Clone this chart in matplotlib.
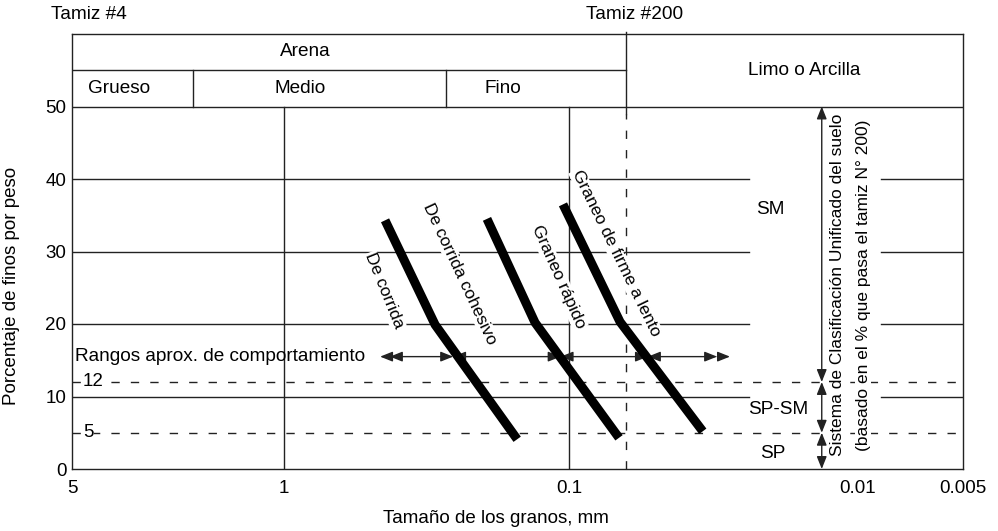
import numpy as np
import matplotlib
matplotlib.use("Agg")
from matplotlib import pyplot as plt

plt.rcParams['font.family'] = ['Liberation Sans', 'DejaVu Sans']
plt.rcParams['font.size'] = 13.7

# ---- data --------------------------------------------------------------
x_ticks = [5, 1, 0.1, 0.01, 0.005]
x_tick_labels = ["5", "1", "0.1", "0.01", "0.005"]
y_ticks = [0, 10, 20, 30, 40, 50]

tamiz_200 = 0.075          # Tamiz #200
tamiz_4 = 4.4              # label position for Tamiz #4
grueso_medio = 2.0         # header boundary Grueso | Medio
medio_fino = 0.27          # header boundary Medio | Fino

# behaviour lines (grain size mm, % fines)
line_x = [[0.442, 0.295, 0.152],
          [0.194, 0.1316, 0.0777],
          [0.105, 0.0773, 0.0385]]
line_y = [[34.3, 19.9, 4.1],
          [34.5, 20.2, 4.3],
          [36.5, 20.3, 5.2]]

line_labels = ["De corrida", "De corrida cohesivo", "Graneo rápido", "Graneo de firme a lento"]
line_label_x = [0.446, 0.241, 0.109, 0.0789]
line_label_y = [24.6, 26.9, 26.5, 29.8]
line_label_rot = [-68, -65, -66, -64]

# behaviour range arrows
range_y = 15.5
range_bounds = [0.425, 0.255, 0.107, 0.062, 0.034]
range_outer = [0.46, 0.0304]

# USCS classification
class_limits = [50, 12, 5, 0]
class_x = 0.0137
class_names = ["SM", "SP-SM", "SP"]
class_name_x = [0.0215, 0.020, 0.021]
class_name_y = [35.8, 8.2, 2.2]

grid_y = [10, 20, 30, 40]
grid_gap = (0.0258, 0.0086)
dash_y = [12, 5]

# ---- distorted log scale of the original drawing ------------------------
anchor_size = np.array([5, 1, 0.1, 0.075, 0.01, 0.005])
anchor_pos = np.array([0, 212, 497, 554, 786, 891]) / 891.0
anchor_log = -np.log10(anchor_size)


def fwd(x):
    with np.errstate(divide="ignore", invalid="ignore"):
        lx = -np.log10(np.clip(np.asarray(x, dtype=float), 1e-6, None))
    return np.interp(lx, anchor_log, anchor_pos)


def inv(p):
    return 10 ** (-np.interp(np.asarray(p, dtype=float), anchor_pos, anchor_log))


fig = plt.figure(figsize=(9.98, 5.31), dpi=100)
ax = fig.add_axes([72 / 998, 62 / 531, 891 / 998, 435 / 531])
ax.set_xscale("function", functions=(fwd, inv))
ax.set_xlim(0.005, 5)
ax.set_ylim(0, 60)

ax.set_xticks(x_ticks)
ax.set_xticklabels(x_tick_labels)
ax.set_yticks(y_ticks)
ax.xaxis.set_minor_locator(matplotlib.ticker.NullLocator())
ax.tick_params(length=0, pad=8, labelsize=13.5)
ax.tick_params(axis="y", pad=4)
for s in ax.spines.values():
    s.set_linewidth(1.0)
    s.set_color("#222222")

ax.set_xlabel("Tamaño de los granos, mm", fontsize=13.5)
ax.xaxis.set_label_coords(0.476, -0.095)
ax.set_ylabel("Porcentaje de finos por peso", fontsize=13.5)
ax.yaxis.set_label_coords(-0.058, 0.42)

lc = "#222222"
dash = (0, (6, 8))
white = dict(facecolor="white", edgecolor="none", pad=0.5)

# header
ax.plot([5, 0.005], [50, 50], color=lc, lw=1)
ax.plot([5, tamiz_200], [55, 55], color=lc, lw=1)
for bx in [grueso_medio, medio_fino]:
    ax.plot([bx, bx], [50, 55], color=lc, lw=1)
ax.plot([tamiz_200, tamiz_200], [49, 60.3], color=lc, lw=1, clip_on=False)
ax.plot([tamiz_200, tamiz_200], [0, 49], color=lc, lw=1, ls=dash)

ax.text(0.84, 57.6, "Arena", ha="center", va="center")
ax.text(3.5, 52.5, "Grueso", ha="center", va="center")
ax.text(0.88, 52.5, "Medio", ha="center", va="center")
ax.text(0.17, 52.5, "Fino", ha="center", va="center")
ax.text(0.016, 55, "Limo o Arcilla", ha="center", va="center")
ax.text(tamiz_4, 62.7, "Tamiz #4", ha="center", va="center", clip_on=False)
ax.text(tamiz_200 * 0.93, 62.7, "Tamiz #200", ha="center", va="center", clip_on=False)

# grid
for gx in [1, 0.1]:
    ax.plot([gx, gx], [0, 50], color=lc, lw=1)
for gy in grid_y:
    ax.plot([5, grid_gap[0]], [gy, gy], color=lc, lw=1)
    ax.plot([grid_gap[1], 0.005], [gy, gy], color=lc, lw=1)
for dy in dash_y:
    ax.plot([5, 0.005], [dy, dy], color=lc, lw=1, ls=dash)
    ax.text(4.6, dy, str(dy), ha="left", va="center", fontsize=13.5, bbox=white)

# thick behaviour lines
for xs, ys in zip(line_x, line_y):
    ax.plot(xs, ys, color="black", lw=6.5, solid_capstyle="butt",
            solid_joinstyle="miter", zorder=5)

for lab, lx, ly, rot in zip(line_labels, line_label_x, line_label_y, line_label_rot):
    ax.text(lx, ly, lab, rotation=rot, ha="center", va="center",
            rotation_mode="anchor", fontsize=12.5, bbox=white, zorder=4)

# behaviour range arrows
head = "<|-|>,head_length=0.75,head_width=0.3"
one_head = "-|>,head_length=0.75,head_width=0.3"
for a, b in zip(range_bounds[:-1], range_bounds[1:]):
    ax.annotate("", xy=(b, range_y), xytext=(a, range_y),
                arrowprops=dict(arrowstyle=head, color=lc, lw=1,
                                shrinkA=0, shrinkB=0, mutation_scale=10))
ax.annotate("", xy=(range_outer[0], range_y), xytext=(range_bounds[0], range_y),
            arrowprops=dict(arrowstyle=one_head, color=lc, lw=1,
                            shrinkA=0, shrinkB=0, mutation_scale=10))
ax.annotate("", xy=(range_outer[1], range_y), xytext=(range_bounds[-1], range_y),
            arrowprops=dict(arrowstyle=one_head, color=lc, lw=1,
                            shrinkA=0, shrinkB=0, mutation_scale=10))
ax.text(4.9, range_y, "Rangos aprox. de comportamiento", ha="left", va="center")

# USCS classification arrows
for a, b in zip(class_limits[:-1], class_limits[1:]):
    ax.annotate("", xy=(class_x, b), xytext=(class_x, a),
                arrowprops=dict(arrowstyle=head, color=lc, lw=1,
                                shrinkA=0, shrinkB=0, mutation_scale=10))
for nm, nx, ny in zip(class_names, class_name_x, class_name_y):
    ax.text(nx, ny, nm, ha="center", va="center")

ax.text(0.0119, 25.4, "Sistema de Clasificación Unificado del suelo",
        rotation=90, ha="center", va="center", fontsize=12.5, bbox=white, zorder=4)
ax.text(0.00967, 25.4, "(basado en el % que pasa el tamiz N° 200)",
        rotation=90, ha="center", va="center", fontsize=12.5, bbox=white, zorder=4)

fig.savefig("out.png", dpi=100)
